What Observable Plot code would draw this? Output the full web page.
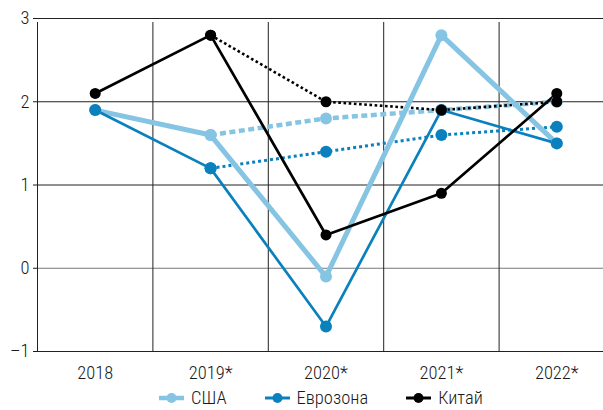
<!DOCTYPE html>
<html>
<head>
<meta charset="utf-8">
<script src="https://cdn.jsdelivr.net/npm/d3@7"></script>
<script src="https://cdn.jsdelivr.net/npm/@observablehq/plot@0.6"></script>
<style>
  body { margin: 0; background: #fff; }
  #wrap { position: relative; width: 603px; height: 410px; overflow: hidden;
          font-family: "Roboto Condensed", Roboto, sans-serif; font-weight: 300; color: #1a1a1a; }
  #legend { position: absolute; left: 159px; top: 387px; display: flex; align-items: center;
            font-size: 18.5px; line-height: 22px; white-space: nowrap; }
  #legend .item { display: flex; align-items: center; margin-right: 38px; }
  #legend svg { margin-right: 7px; }
</style>
</head>
<body>
<div id="wrap">
  <div id="chart"></div>
  <div id="legend"></div>
</div>
<script>
// Years on the horizontal axis (* = forecast)
const years = ["2018", "2019*", "2020*", "2021*", "2022*"];
const yTicks = [-1, 0, 1, 2, 3];

// Actual / latest estimates
const usa   = [1.9, 1.6, -0.1, 2.8, 1.5];
const euro  = [1.9, 1.2, -0.7, 1.9, 1.5];
const china = [2.1, 2.8, 0.4, 0.9, 2.1];

// Earlier forecast paths (start from 2019)
const usaPrev   = [null, 1.6, 1.8, 1.9, 2.0];
const euroPrev  = [null, 1.2, 1.4, 1.6, 1.7];
const chinaPrev = [null, 2.8, 2.0, 1.9, 2.0];

const seriesNames = ["США", "Еврозона", "Китай"];
const colors = { "США": "#86c4e3", "Еврозона": "#0a80bc", "Китай": "#000000" };

const rows = (vals, series) =>
  vals.map((v, i) => ({ i, v, series })).filter(d => d.v != null);

const fmt = d => (d < 0 ? "\u2013" + Math.abs(d) : String(d));
const boundaries = years.map((_, i) => i - 0.5);

const lineStyle = {
  "США":      { solid: 5,   prev: { w: 4.5, dash: "6,3.5" }, r: 6 },
  "Еврозона": { solid: 2.7, prev: { w: 3,   dash: "3,3" },   r: 6 },
  "Китай":    { solid: 2.7, prev: { w: 2.6, dash: "2.6,2.6" }, r: 5.5 }
};
const solidData = { "США": usa, "Еврозона": euro, "Китай": china };
const prevData  = { "США": usaPrev, "Еврозона": euroPrev, "Китай": chinaPrev };

const marks = [
  // horizontal grid
  Plot.ruleY(yTicks.filter(t => t !== 0), { stroke: "#222", strokeWidth: 1 }),
  Plot.ruleY([0], { stroke: "#777", strokeWidth: 1.2 }),
  // vertical separators between years, with short ticks below the frame
  Plot.ruleX(boundaries, { y1: -1, y2: 3, stroke: "#222", strokeWidth: 1, insetBottom: -4 })
];

for (const s of seriesNames) {
  const st = lineStyle[s];
  marks.push(Plot.line(rows(prevData[s], s), {
    x: "i", y: "v", stroke: colors[s], strokeWidth: st.prev.w,
    strokeDasharray: st.prev.dash, strokeLinecap: "butt"
  }));
}
for (const s of seriesNames) {
  const st = lineStyle[s];
  marks.push(Plot.line(rows(solidData[s], s), {
    x: "i", y: "v", stroke: colors[s], strokeWidth: st.solid
  }));
}
for (const s of seriesNames) {
  const st = lineStyle[s];
  marks.push(Plot.dot(rows(prevData[s], s), { x: "i", y: "v", r: st.r, fill: colors[s], stroke: "none" }));
  marks.push(Plot.dot(rows(solidData[s], s), { x: "i", y: "v", r: st.r, fill: colors[s], stroke: "none" }));
}

const chart = Plot.plot({
  width: 603,
  height: 385,
  marginTop: 18,
  marginBottom: 34,
  marginLeft: 37,
  marginRight: 0,
  style: { fontFamily: "\"Roboto Condensed\", Roboto, sans-serif", fontWeight: 300,
           fontSize: "18.5px", color: "#1a1a1a", background: "#fff" },
  x: {
    type: "linear", domain: [-0.5, 4.5], range: [37, 614],
    ticks: years.map((_, i) => i), tickFormat: i => years[i],
    tickSize: 0, tickPadding: 14, label: null
  },
  y: {
    domain: [-1, 3], ticks: yTicks, tickFormat: fmt,
    tickSize: 4, tickPadding: 4, label: null
  },
  marks
});
document.getElementById("chart").appendChild(chart);

// Legend: short line with a dot, then the series name
const legend = d3.select("#legend");
for (const s of seriesNames) {
  const item = legend.append("div").attr("class", "item");
  const sw = item.append("svg").attr("width", 25).attr("height", 12);
  sw.append("line").attr("x1", 0).attr("x2", 25).attr("y1", 6).attr("y2", 6)
    .attr("stroke", colors[s]).attr("stroke-width", s === "США" ? 4.5 : 3);
  sw.append("circle").attr("cx", 12.5).attr("cy", 6).attr("r", 5).attr("fill", colors[s]);
  item.append("span").text(s);
}
</script>
</body>
</html>
